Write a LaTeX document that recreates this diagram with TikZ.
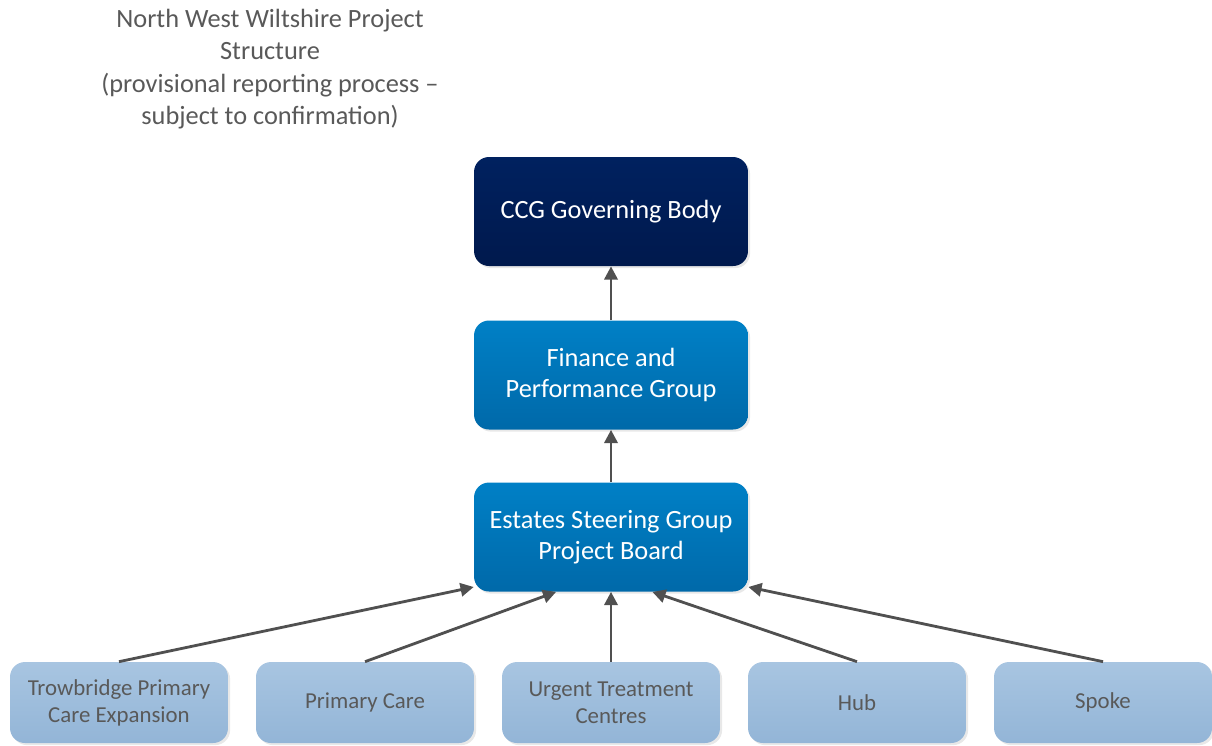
\documentclass[tikz,border=0pt]{standalone}
\usepackage{fontspec}
\setmainfont{Carlito}
\usepackage{tikz}
\usetikzlibrary{shadows,arrows.meta}
\definecolor{navytop}{HTML}{00215F}
\definecolor{navybot}{HTML}{00194D}
\definecolor{bluetop}{HTML}{0080C6}
\definecolor{bluebot}{HTML}{0069A9}
\definecolor{paletop}{HTML}{A8C5E1}
\definecolor{palebot}{HTML}{93B5D7}
\definecolor{linkgrey}{HTML}{505050}
\definecolor{textgrey}{HTML}{595959}

\begin{document}
\begin{tikzpicture}[x=0.02cm,y=-0.02cm,
    board/.style={rounded corners=8.5pt,minimum width=5.48cm,minimum height=2.18cm,
      align=center,text=white,font=\fontsize{15}{17.6}\selectfont,
      drop shadow={opacity=0.18,shadow xshift=1.2pt,shadow yshift=-1.2pt}},
    project/.style={rounded corners=8.5pt,minimum width=4.36cm,minimum height=1.62cm,
      align=center,text=textgrey,font=\fontsize{13}{15.3}\selectfont,
      top color=paletop,bottom color=palebot,
      drop shadow={opacity=0.18,shadow xshift=1.2pt,shadow yshift=-1.2pt}},
    report/.style={draw=linkgrey,line width=1.6pt,-{Triangle[length=7.5pt,width=7.5pt]}}]
    \useasboundingbox (0,0) rectangle (1212,745);

    \node[text=textgrey,align=center,font=\fontsize{15}{18.4}\selectfont] (title) at (270,69)
      {North West Wiltshire Project\\Structure\\(provisional reporting process --\\subject to confirmation)};

    \node[board,top color=navytop,bottom color=navybot] (ccg) at (611,211.5) {CCG Governing Body};
    \node[board,top color=bluetop,bottom color=bluebot] (fin) at (611,375) {Finance and\\Performance Group};
    \node[board,top color=bluetop,bottom color=bluebot] (esg) at (611,537) {Estates Steering Group\\Project Board};

    \node[project] (trow) at (119,702.5) {Trowbridge Primary\\Care Expansion};
    \node[project] (prim) at (365,702.5) {Primary Care};
    \node[project] (utc) at (611,702.5) {Urgent Treatment\\Centres};
    \node[project] (hub) at (857,702.5) {Hub};
    \node[project] (spoke) at (1103,702.5) {Spoke};

    \draw[report] (fin) -- (ccg);
    \draw[report] (esg) -- (fin);
    \draw[report] (trow.north) -- (esg.200);
    \draw[report] (prim.north) -- (esg.225);
    \draw[report] (utc) -- (esg);
    \draw[report] (hub.north) -- (esg.307);
    \draw[report] (spoke.north) -- (esg.340);
  \end{tikzpicture}
\end{document}
